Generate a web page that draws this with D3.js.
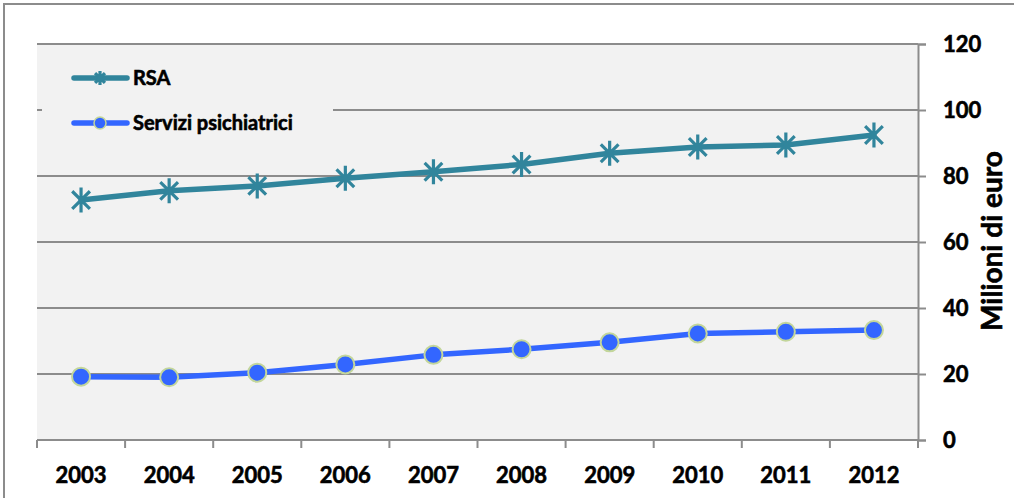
<!DOCTYPE html>
<html>
<head>
<meta charset="utf-8">
<script src="https://cdn.jsdelivr.net/npm/d3@7"></script>
<style>
  html, body { margin: 0; padding: 0; background: #fff; }
  svg { display: block; }
  text { font-family: Lato, "Open Sans", sans-serif; font-weight: 700; fill: #000; stroke: #000; stroke-width: 0.6px; }
</style>
</head>
<body>
<svg id="chart" width="1014" height="498"></svg>
<script>
// Annual spending, millions of euro
const years = ["2003", "2004", "2005", "2006", "2007", "2008", "2009", "2010", "2011", "2012"];
const rsa = [72.7, 75.5, 77.0, 79.3, 81.3, 83.5, 86.9, 88.8, 89.4, 92.4];
const psichiatrici = [19.2, 19.0, 20.4, 22.9, 25.8, 27.5, 29.6, 32.3, 32.8, 33.3];
const yTicks = [0, 20, 40, 60, 80, 100, 120];
const seriesNames = ["RSA", "Servizi psichiatrici"];

const svg = d3.select("#chart");
const plot = { left: 37, right: 918, top: 44, bottom: 440 };
const gridColor = "#8c8c8c";
const rsaColor = "#31859c";
const psiColor = "#3366ff";

// outer frame
svg.append("rect")
  .attr("x", 4).attr("y", 4).attr("width", 1030).attr("height", 520)
  .attr("fill", "#fff").attr("stroke", gridColor).attr("stroke-width", 2);

const x = d3.scaleBand().domain(years).range([plot.left, plot.right]).padding(0);
const y = d3.scaleLinear().domain([0, 120]).range([plot.bottom, plot.top]);

// plot background
svg.append("rect")
  .attr("x", plot.left).attr("y", plot.top)
  .attr("width", plot.right - plot.left).attr("height", plot.bottom - plot.top)
  .attr("fill", "#f2f2f2");

// horizontal gridlines
svg.append("g").selectAll("line").data(yTicks.filter(d => d > 0)).join("line")
  .attr("x1", plot.left).attr("x2", plot.right)
  .attr("y1", d => y(d)).attr("y2", d => y(d))
  .attr("stroke", gridColor).attr("stroke-width", 2);

// right value axis
const yAxis = svg.append("g")
  .attr("transform", `translate(${plot.right},0)`)
  .call(d3.axisRight(y).tickValues(yTicks).tickSize(8).tickPadding(17));
yAxis.select(".domain").attr("stroke", gridColor).attr("stroke-width", 2);
yAxis.selectAll(".tick line").attr("stroke", gridColor).attr("stroke-width", 2);
yAxis.selectAll(".tick text")
  .attr("font-size", 22).attr("font-family", "Lato").attr("font-weight", 700)
  .attr("fill", "#000").attr("text-anchor", "start").attr("dy", "0.36em");

// bottom category axis, ticks on band boundaries
svg.append("line")
  .attr("x1", plot.left).attr("x2", plot.right)
  .attr("y1", plot.bottom).attr("y2", plot.bottom)
  .attr("stroke", gridColor).attr("stroke-width", 2);
const bounds = years.map(d => x(d)).concat([plot.right]);
svg.append("g").selectAll("line").data(bounds).join("line")
  .attr("x1", d => d).attr("x2", d => d)
  .attr("y1", plot.bottom).attr("y2", plot.bottom + 8)
  .attr("stroke", gridColor).attr("stroke-width", 2);
svg.append("g").selectAll("text").data(years).join("text")
  .attr("x", d => x(d) + x.bandwidth() / 2)
  .attr("y", 483)
  .attr("text-anchor", "middle")
  .attr("font-size", 22)
  .text(d => d);

// axis title
svg.append("text")
  .attr("transform", "translate(1002,241) rotate(-90)")
  .attr("text-anchor", "middle")
  .attr("font-size", 28)
  .text("Milioni di euro");

// legend box
const legend = svg.append("g");
legend.append("rect")
  .attr("x", 42).attr("y", 52).attr("width", 291).attr("height", 96)
  .attr("fill", "#f2f2f2");

const cx = d => x(d) + x.bandwidth() / 2;

function asterisk(sel, size) {
  const r = size / 2, d = r * Math.cos(Math.PI / 4);
  const p = `M0,${-r}V${r}M${-d},${-d}L${d},${d}M${-d},${d}L${d},${-d}`;
  sel.append("path").attr("d", p)
    .attr("stroke", rsaColor).attr("stroke-width", 3.2).attr("fill", "none");
}

// RSA series
const rsaData = years.map((d, i) => [d, rsa[i]]);
svg.append("path").datum(rsaData)
  .attr("d", d3.line().x(d => cx(d[0])).y(d => y(d[1])))
  .attr("fill", "none").attr("stroke", rsaColor).attr("stroke-width", 5.5)
  .attr("stroke-linejoin", "round").attr("stroke-linecap", "round");
svg.append("g").selectAll("g").data(rsaData).join("g")
  .attr("transform", d => `translate(${cx(d[0])},${y(d[1])})`)
  .each(function () { asterisk(d3.select(this), 25); });

// Servizi psichiatrici series
const psiData = years.map((d, i) => [d, psichiatrici[i]]);
svg.append("path").datum(psiData)
  .attr("d", d3.line().x(d => cx(d[0])).y(d => y(d[1])))
  .attr("fill", "none").attr("stroke", psiColor).attr("stroke-width", 5.5)
  .attr("stroke-linejoin", "round").attr("stroke-linecap", "round");
svg.append("g").selectAll("circle").data(psiData).join("circle")
  .attr("cx", d => cx(d[0])).attr("cy", d => y(d[1])).attr("r", 9)
  .attr("fill", psiColor).attr("stroke", "#c3d69b").attr("stroke-width", 2);

// legend entries
const legendY = [78, 123];
legend.append("line")
  .attr("x1", 74).attr("x2", 127).attr("y1", legendY[0]).attr("y2", legendY[0])
  .attr("stroke", rsaColor).attr("stroke-width", 5.5).attr("stroke-linecap", "round");
legend.append("g").attr("transform", `translate(100,${legendY[0]})`)
  .call(g => asterisk(g, 14));
legend.append("line")
  .attr("x1", 74).attr("x2", 127).attr("y1", legendY[1]).attr("y2", legendY[1])
  .attr("stroke", psiColor).attr("stroke-width", 5.5).attr("stroke-linecap", "round");
legend.append("circle")
  .attr("cx", 100).attr("cy", legendY[1]).attr("r", 6)
  .attr("fill", psiColor).attr("stroke", "#c3d69b").attr("stroke-width", 1.5);
legend.selectAll("text.lbl").data(seriesNames).join("text")
  .attr("class", "lbl")
  .attr("x", 133).attr("y", (d, i) => legendY[i] + 7)
  .attr("font-size", 20)
  .text(d => d);
</script>
</body>
</html>
